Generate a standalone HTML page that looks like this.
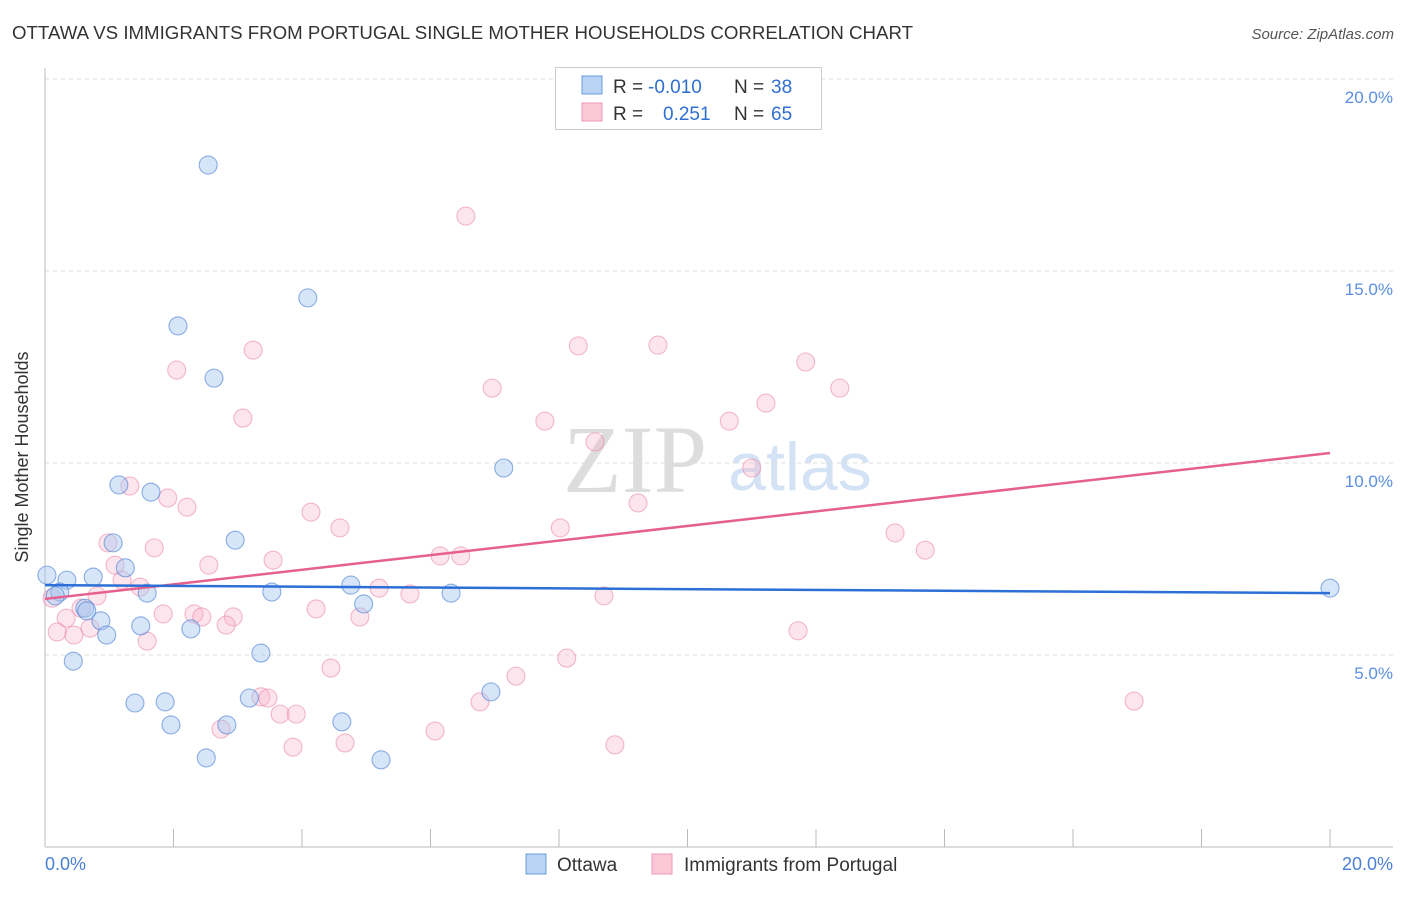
<!DOCTYPE html>
<html><head><meta charset="utf-8"><style>
body{margin:0;background:#fff;font-family:"Liberation Sans",sans-serif}
</style></head><body>
<svg width="1406" height="892" xmlns="http://www.w3.org/2000/svg" id="chart" font-family="Liberation Sans, sans-serif">
<text x="12" y="39" font-size="18" fill="#333" textLength="901" lengthAdjust="spacingAndGlyphs">OTTAWA VS IMMIGRANTS FROM PORTUGAL SINGLE MOTHER HOUSEHOLDS CORRELATION CHART</text>
<text x="1394" y="39" font-size="15" fill="#555" font-style="italic" text-anchor="end">Source: ZipAtlas.com</text>
<text x="635" y="492" font-size="96" fill="#ddd" font-family="Liberation Serif, serif" text-anchor="middle">ZIP</text>
<text x="800" y="490" font-size="68" fill="#d3e2f5" text-anchor="middle">atlas</text>
<g id="grid"></g>
<line x1="45" y1="68" x2="45" y2="847" stroke="#bbb"/>
<line x1="45" y1="847" x2="1393" y2="847" stroke="#bbb"/>
<text x="28" y="457" font-size="18" fill="#333" text-anchor="middle" transform="rotate(-90 28 457)">Single Mother Households</text>
<text x="45" y="870" font-size="18" fill="#4a7fd4">0.0%</text>
<text x="1393" y="870" font-size="18" fill="#4a7fd4" text-anchor="end">20.0%</text>
<g id="pts"></g>
<g id="trends"></g>
<g>
<rect x="555.5" y="67.5" width="266" height="62" fill="#fff" stroke="#ccc"/>
<rect x="582" y="76" width="20" height="18" fill="#b9d3f5" stroke="#6a9be0"/>
<rect x="582" y="103" width="20" height="18" fill="#fcc8d8" stroke="#ec9ab4"/>
<text x="613" y="93" font-size="19" fill="#333">R =</text>
<text x="648" y="93" font-size="19" fill="#2f6fd0">-0.010</text>
<text x="734" y="93" font-size="19" fill="#333">N =</text>
<text x="771" y="93" font-size="19" fill="#2f6fd0">38</text>
<text x="613" y="120" font-size="19" fill="#333">R =</text>
<text x="663" y="120" font-size="19" fill="#2f6fd0">0.251</text>
<text x="734" y="120" font-size="19" fill="#333">N =</text>
<text x="771" y="120" font-size="19" fill="#2f6fd0">65</text>
</g>
<g>
<rect x="526" y="854" width="20" height="20" fill="#b9d3f5" stroke="#6a9be0"/>
<text x="557" y="871" font-size="19" fill="#333">Ottawa</text>
<rect x="652" y="854" width="20" height="20" fill="#fcc8d8" stroke="#ec9ab4"/>
<text x="684" y="871" font-size="19" fill="#333">Immigrants from Portugal</text>
</g>
</svg>
<script>
const yTicks=[5,10,15,20];
const yTickLabels=["5.0%","10.0%","15.0%","20.0%"];
const ottawaX=[2.54,4.09,2.07,2.63,7.14,1.15,1.65,2.96,1.06,1.25,0.75,0.34,0.03,0.23,1.59,3.53,4.76,6.32,4.96,0.62,0.65,0.87,1.49,2.27,0.96,3.36,0.44,1.40,1.87,3.18,6.94,1.96,2.83,4.62,2.51,5.23,20.0,0.16];
const ottawaY=[17.76,14.30,13.57,12.21,9.87,9.43,9.24,7.99,7.92,7.27,7.03,6.95,7.08,6.64,6.61,6.64,6.82,6.61,6.33,6.22,6.15,5.89,5.76,5.68,5.52,5.05,4.84,3.75,3.78,3.88,4.04,3.18,3.18,3.26,2.32,2.27,6.74,6.54];
const portX=[6.55,3.24,8.30,9.54,2.05,11.84,6.96,12.37,11.22,3.08,7.78,10.65,8.56,11.00,1.32,1.91,2.21,9.23,4.14,4.59,8.02,13.23,0.98,1.70,13.70,3.55,6.15,6.47,1.09,2.55,1.20,1.48,5.20,5.68,8.70,0.81,0.11,0.56,4.22,1.84,2.32,2.44,2.93,0.33,4.90,0.70,2.82,0.19,0.45,1.59,11.72,8.12,4.45,7.33,3.36,3.47,6.77,16.95,3.66,3.91,2.74,6.07,4.67,3.86,8.87];
const portY=[16.43,12.94,13.05,13.07,12.42,12.63,11.95,11.95,11.56,11.17,11.09,11.09,10.55,9.87,9.40,9.09,8.85,8.96,8.72,8.31,8.31,8.18,7.92,7.79,7.73,7.47,7.58,7.58,7.34,7.34,6.95,6.77,6.74,6.59,6.54,6.54,6.48,6.22,6.20,6.07,6.07,5.99,5.99,5.96,5.99,5.70,5.78,5.60,5.52,5.36,5.63,4.92,4.66,4.45,3.91,3.88,3.78,3.80,3.46,3.46,3.07,3.02,2.71,2.60,2.66];
const ottawaTrend=[6.82,6.61];
const portTrend=[6.46,10.26];
const trendX=[0,20];
const NS="http://www.w3.org/2000/svg";
const sx=v=>45+v*(1285/20);
const sy=v=>847-v*38.4;
function mk(t,a,p){const e=document.createElementNS(NS,t);for(const k in a)e.setAttribute(k,a[k]);p.appendChild(e);return e;}
const grid=document.getElementById('grid');
yTicks.forEach((t,i)=>{
  const l=mk('line',{x1:45,x2:1393,y1:sy(t),y2:sy(t),stroke:'#ddd','stroke-dasharray':'4 4'},grid);
  
  
  const tx=mk('text',{x:1393,y:sy(t)+24,'font-size':17,fill:'#5a8ee0','text-anchor':'end'},grid);
  tx.textContent=yTickLabels[i];
  
  
});
for(let i=1;i<=10;i++){
  const l=mk('line',{x1:sx(i*2),x2:sx(i*2),y1:829,y2:847,stroke:'#bbb'},grid);
  
  
}
const pts=document.getElementById('pts');
portX.forEach((x,i)=>{
  const c=mk('circle',{cx:sx(x),cy:sy(portY[i]),r:9,fill:'rgba(248,175,200,0.33)',stroke:'rgba(232,130,165,0.55)','stroke-width':1.1},pts);
  
  
});
ottawaX.forEach((x,i)=>{
  const c=mk('circle',{cx:sx(x),cy:sy(ottawaY[i]),r:9,fill:'rgba(165,198,240,0.45)',stroke:'rgba(70,125,210,0.6)','stroke-width':1.1},pts);
  
  
});
const tr=document.getElementById('trends');
const t1=mk('line',{x1:sx(trendX[0]),x2:sx(trendX[1]),y1:sy(portTrend[0]),y2:sy(portTrend[1]),stroke:'#e5608e','stroke-width':2.5},tr);


const t2=mk('line',{x1:sx(trendX[0]),x2:sx(trendX[1]),y1:sy(ottawaTrend[0]),y2:sy(ottawaTrend[1]),stroke:'#2c6fd6','stroke-width':2.5},tr);


</script>
</body></html>
